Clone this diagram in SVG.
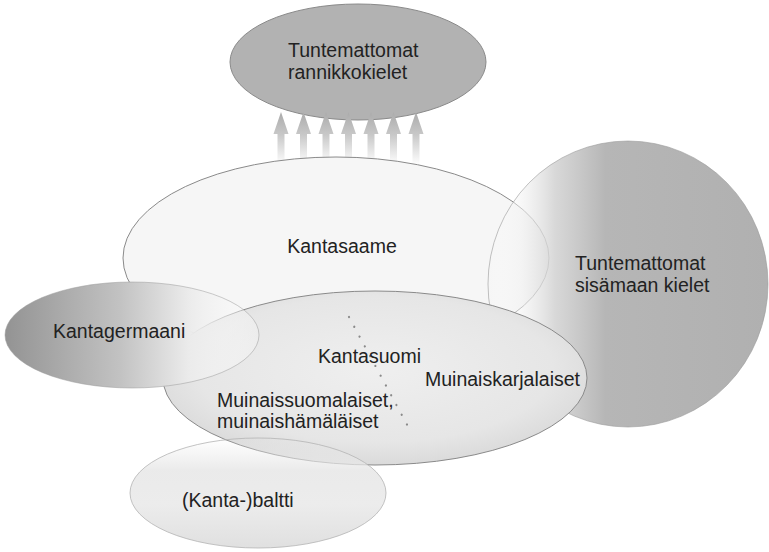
<svg xmlns="http://www.w3.org/2000/svg" width="769" height="552" viewBox="0 0 769 552">
<defs>
<linearGradient id="gArrow" gradientUnits="userSpaceOnUse" x1="0" y1="110" x2="0" y2="165">
<stop offset="0" stop-color="#a8a8a8"/>
<stop offset="0.45" stop-color="#c8c8c8"/>
<stop offset="1" stop-color="#ffffff"/>
</linearGradient>
<linearGradient id="gCircle" gradientUnits="userSpaceOnUse" x1="487" y1="0" x2="769" y2="0">
<stop offset="0" stop-color="#ffffff" stop-opacity="0"/>
<stop offset="0.12" stop-color="#f2f2f2" stop-opacity="0.55"/>
<stop offset="0.24" stop-color="#d4d4d4" stop-opacity="0.9"/>
<stop offset="0.42" stop-color="#b6b6b6" stop-opacity="1"/>
<stop offset="1" stop-color="#b0b0b0" stop-opacity="1"/>
</linearGradient>
<linearGradient id="gGerm" gradientUnits="userSpaceOnUse" x1="5" y1="0" x2="260" y2="0">
<stop offset="0" stop-color="#939393"/>
<stop offset="0.45" stop-color="#c2c2c2"/>
<stop offset="0.72" stop-color="#ebebeb"/>
<stop offset="1" stop-color="#ffffff" stop-opacity="0.2"/>
</linearGradient>
<radialGradient id="gSuomi" cx="0.5" cy="0.45" r="0.6">
<stop offset="0" stop-color="#efefef"/>
<stop offset="0.7" stop-color="#e6e6e6"/>
<stop offset="1" stop-color="#d6d6d6"/>
</radialGradient>
<linearGradient id="gBalt" x1="0" y1="0" x2="0" y2="1">
<stop offset="0" stop-color="#eaeaea" stop-opacity="0"/>
<stop offset="0.3" stop-color="#e8e8e8" stop-opacity="0.9"/>
<stop offset="0.6" stop-color="#ececec"/>
<stop offset="1" stop-color="#e0e0e0"/>
</linearGradient>
<style>
.edge{stroke:#8a8a8a;stroke-width:1}
.t{font-family:"Liberation Sans",Arial,sans-serif;font-size:19.5px;fill:#222}
.m{text-anchor:middle}
</style>
</defs>
<rect width="769" height="552" fill="#ffffff"/>

<g id="node-rannikkokielet">
<ellipse cx="358" cy="62" rx="128" ry="58" fill="#b2b2b2" class="edge"/>
<text class="t" x="288" y="57">Tuntemattomat</text>
<text class="t" x="288" y="79">rannikkokielet</text>
</g>

<g id="connectors" fill="url(#gArrow)">
<path d="M281,112 L288.5,134 L284.5,134 L284.5,170 L277.5,170 L277.5,134 L273.5,134 Z"/>
<path d="M303.5,112 L311,134 L307,134 L307,170 L300,170 L300,134 L296,134 Z"/>
<path d="M326,112 L333.5,134 L329.5,134 L329.5,170 L322.5,170 L322.5,134 L318.5,134 Z"/>
<path d="M348.5,112 L356,134 L352,134 L352,170 L345,170 L345,134 L341,134 Z"/>
<path d="M371,112 L378.5,134 L374.5,134 L374.5,170 L367.5,170 L367.5,134 L363.5,134 Z"/>
<path d="M393.5,112 L401,134 L397,134 L397,170 L390,170 L390,134 L386,134 Z"/>
<path d="M416,112 L423.5,134 L419.5,134 L419.5,170 L412.5,170 L412.5,134 L408.5,134 Z"/>
</g>

<g id="node-kantasaame">
<ellipse cx="336" cy="258" rx="213" ry="101" fill="#f6f6f6" class="edge"/>
<text class="t m" x="342" y="253">Kantasaame</text>
</g>

<g id="node-sisamaan">
<ellipse cx="628" cy="284" rx="140" ry="143" fill="url(#gCircle)" stroke="#9a9a9a" stroke-opacity="0.6"/>
<text class="t" x="575" y="270">Tuntemattomat</text>
<text class="t" x="575" y="292">sisämaan kielet</text>
</g>

<g id="node-kantasuomi">
<ellipse cx="375" cy="378" rx="212" ry="87" fill="url(#gSuomi)" class="edge"/>
<line x1="349" y1="317" x2="411" y2="432" stroke="#8a8a8a" stroke-width="2.2" stroke-linecap="round" stroke-dasharray="0.1 11"/>
<text class="t" x="318" y="363">Kantasuomi</text>
<text class="t" x="425" y="386">Muinaiskarjalaiset</text>
<text class="t" x="217" y="407">Muinaissuomalaiset,</text>
<text class="t" x="217" y="428">muinaishämäläiset</text>
</g>

<g id="node-baltti">
<ellipse cx="258" cy="493" rx="128" ry="55" fill="url(#gBalt)" stroke="#b4b4b4" stroke-opacity="0.8"/>
<text class="t" x="182" y="507">(Kanta-)baltti</text>
</g>

<g id="node-kantagermaani">
<ellipse cx="132" cy="335" rx="127" ry="53" fill="url(#gGerm)" stroke="#9a9a9a" stroke-opacity="0.5"/>
<text class="t" x="53" y="338">Kantagermaani</text>
</g>
</svg>
